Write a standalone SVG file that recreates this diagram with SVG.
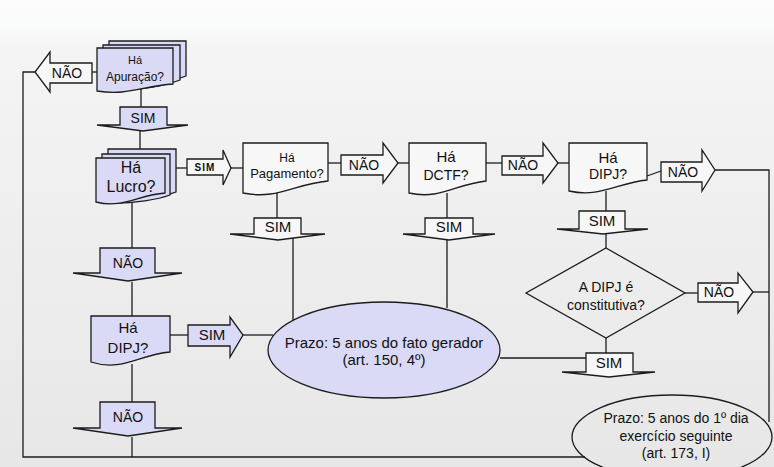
<svg xmlns="http://www.w3.org/2000/svg" width="774" height="467" viewBox="0 0 774 467">
<defs>
<linearGradient id="bg" x1="0" y1="0" x2="0" y2="1">
<stop offset="0" stop-color="#fcfcfc"/>
<stop offset="0.06" stop-color="#fafbfb"/>
<stop offset="0.1" stop-color="#f4f4f4"/>
<stop offset="1" stop-color="#e7e7e7"/>
</linearGradient>
<style>
.ln{stroke:#1c1c1c;stroke-width:1.3;fill:none}
.lav{fill:#dadaf6;stroke:#1c1c1c;stroke-width:1.3}
.wht{fill:#f7f7f7;stroke:#1c1c1c;stroke-width:1.3}
.clr{fill:none;stroke:#1c1c1c;stroke-width:1.3}
.t{font-family:"Liberation Sans",Arial,sans-serif;fill:#111;text-anchor:middle}
</style>
</defs>
<rect x="0" y="0" width="774" height="467" fill="url(#bg)"/>

<g id="connectors" class="ln">
<polyline points="35,72 23,72 23,457 585,457"/>
<line x1="92" y1="72" x2="97" y2="72"/>
<line x1="141" y1="88" x2="141" y2="107"/>
<line x1="140" y1="131" x2="140" y2="150"/>
<line x1="176" y1="168" x2="188" y2="168"/>
<line x1="231" y1="168" x2="243" y2="168"/>
<line x1="328" y1="163" x2="341" y2="163"/>
<line x1="398" y1="163" x2="409" y2="163"/>
<line x1="486" y1="163" x2="502" y2="163"/>
<line x1="558" y1="163" x2="569" y2="163"/>
<line x1="647" y1="176" x2="661" y2="171"/>
<polyline points="715,170 769,170 769,422"/>
<line x1="277" y1="193" x2="277" y2="218"/>
<line x1="293" y1="238" x2="293" y2="322"/>
<line x1="447" y1="193" x2="447" y2="218"/>
<line x1="447" y1="238" x2="447" y2="308"/>
<line x1="606" y1="191" x2="606" y2="211"/>
<line x1="606" y1="233" x2="606" y2="248"/>
<line x1="606" y1="338" x2="606" y2="353"/>
<line x1="500" y1="358" x2="586" y2="358"/>
<line x1="685" y1="293" x2="698" y2="293"/>
<line x1="753" y1="292" x2="769" y2="292"/>
<line x1="132" y1="203" x2="132" y2="248"/>
<line x1="132" y1="282" x2="132" y2="316"/>
<line x1="170" y1="335" x2="188" y2="335"/>
<line x1="243" y1="335" x2="273" y2="335"/>
<line x1="132" y1="364" x2="132" y2="402"/>
<line x1="132" y1="437" x2="132" y2="457"/>
</g>

<g id="n-apuracao">
<path class="lav" d="M109,41 H186 V76 C178,79 150,88 109,86 Z"/>
<path class="lav" d="M103,45 H180 V80 C172,83 144,92 103,90 Z"/>
<path class="lav" d="M97,48 H173 V84 C143,86 127,96 97,91 Z"/>
<text class="t" x="135" y="64" font-size="11">Há</text>
<text class="t" x="135" y="81" font-size="12">Apuração?</text>
</g>

<g id="a-apuracao-nao">
<polygon class="wht" points="92,63 50,63 50,52 35,72 50,92 50,83 92,83"/>
<text class="t" x="67" y="78" font-size="14">NÃO</text>
</g>

<g id="a-apuracao-sim">
<polygon class="lav" points="120,107 167,107 167,125 188,125 143,131 97,125 120,125"/>
<text class="t" x="143" y="123" font-size="14">SIM</text>
</g>

<g id="n-lucro">
<path class="lav" d="M108,149 H176 V192 C168,195 140,202 108,200 Z"/>
<path class="lav" d="M102,154 H170 V195 C162,198 134,205 102,203 Z"/>
<path class="lav" d="M96,158 H165 V193 C138,195 122,209 96,202 Z"/>
<text class="t" x="131" y="173" font-size="16">Há</text>
<text class="t" x="131" y="192" font-size="16">Lucro?</text>
</g>

<g id="a-lucro-sim">
<polygon class="wht" points="187,159 223,159 223,150 231,168 223,185 223,175 187,175"/>
<text class="t" x="205" y="171" font-size="10" font-weight="bold" letter-spacing="1">SIM</text>
</g>

<g id="n-pagamento">
<path class="wht" d="M243,143 H328 V181 C294,184 277,200 243,193 Z"/>
<text class="t" x="287" y="162" font-size="12">Há</text>
<text class="t" x="287" y="178" font-size="13">Pagamento?</text>
</g>

<g id="a-pagamento-nao">
<polygon class="wht" points="341,155 383,155 383,143 398,163 383,183 383,175 341,175"/>
<text class="t" x="364" y="170" font-size="14">NÃO</text>
</g>

<g id="a-pagamento-sim">
<polygon class="wht" points="254,218 301,218 301,234 325,234 278,240 230,234 254,234"/>
<text class="t" x="278" y="232" font-size="15">SIM</text>
</g>

<g id="n-dctf">
<path class="wht" d="M409,143 H486 V181 C456,184 440,200 409,193 Z"/>
<text class="t" x="446" y="162" font-size="15">Há</text>
<text class="t" x="446" y="180" font-size="14">DCTF?</text>
</g>

<g id="a-dctf-nao">
<polygon class="wht" points="502,156 543,156 543,143 558,163 543,183 543,175 502,175"/>
<text class="t" x="523" y="170" font-size="14">NÃO</text>
</g>

<g id="a-dctf-sim">
<polygon class="wht" points="425,218 473,218 473,234 495,234 449,240 403,234 425,234"/>
<text class="t" x="449" y="232" font-size="15">SIM</text>
</g>

<g id="n-dipj">
<path class="wht" d="M569,143 H647 V180 C617,183 600,198 569,191 Z"/>
<text class="t" x="608" y="163" font-size="15">Há</text>
<text class="t" x="608" y="179" font-size="14">DIPJ?</text>
</g>

<g id="a-dipj-nao">
<polygon class="wht" points="661,162 702,162 702,150 715,170 702,191 702,182 661,182"/>
<text class="t" x="683" y="177" font-size="14">NÃO</text>
</g>

<g id="a-dipj-sim">
<polygon class="wht" points="579,211 625,211 625,229 648,229 603,234 557,229 579,229"/>
<text class="t" x="602" y="226" font-size="15">SIM</text>
</g>

<g id="n-constitutiva">
<polygon class="clr" points="606,248 685,293 606,338 526,293"/>
<text class="t" x="606" y="292" font-size="14">A DIPJ é</text>
<text class="t" x="606" y="310" font-size="14">constitutiva?</text>
</g>

<g id="a-constitutiva-nao">
<polygon class="wht" points="698,283 738,283 738,273 753,292 738,313 738,302 698,302"/>
<text class="t" x="719" y="297" font-size="14">NÃO</text>
</g>

<g id="a-constitutiva-sim">
<polygon class="wht" points="586,353 633,353 633,372 655,372 609,377 562,372 586,372"/>
<text class="t" x="609" y="368" font-size="15">SIM</text>
</g>

<g id="a-lucro-nao">
<polygon class="lav" points="100,248 155,248 155,273 182,273 128,281 73,273 100,273"/>
<text class="t" x="128" y="268" font-size="14">NÃO</text>
</g>

<g id="n-dipj2">
<path class="lav" d="M91,316 H170 V352 C138,355 122,372 91,362 Z"/>
<text class="t" x="128" y="333" font-size="15">Há</text>
<text class="t" x="128" y="353" font-size="15">DIPJ?</text>
</g>

<g id="a-dipj2-sim">
<polygon class="lav" points="188,325 230,325 230,317 243,335 230,357 230,346 188,346"/>
<text class="t" x="212" y="340" font-size="15">SIM</text>
</g>

<g id="a-dipj2-nao">
<polygon class="lav" points="100,402 155,402 155,428 182,428 128,436 73,428 100,428"/>
<text class="t" x="128" y="422" font-size="14">NÃO</text>
</g>

<g id="n-prazo150">
<ellipse class="lav" cx="384" cy="350" rx="116" ry="48"/>
<text class="t" x="384" y="348" font-size="15">Prazo: 5 anos do fato gerador</text>
<text class="t" x="384" y="365" font-size="15">(art. 150, 4º)</text>
</g>

<g id="n-prazo173">
<ellipse class="clr" cx="672" cy="437" rx="100" ry="42"/>
<text class="t" x="676" y="423" font-size="14">Prazo: 5 anos do 1º dia</text>
<text class="t" x="676" y="441" font-size="14">exercício seguinte</text>
<text class="t" x="676" y="458" font-size="14">(art. 173, I)</text>
</g>
</svg>
